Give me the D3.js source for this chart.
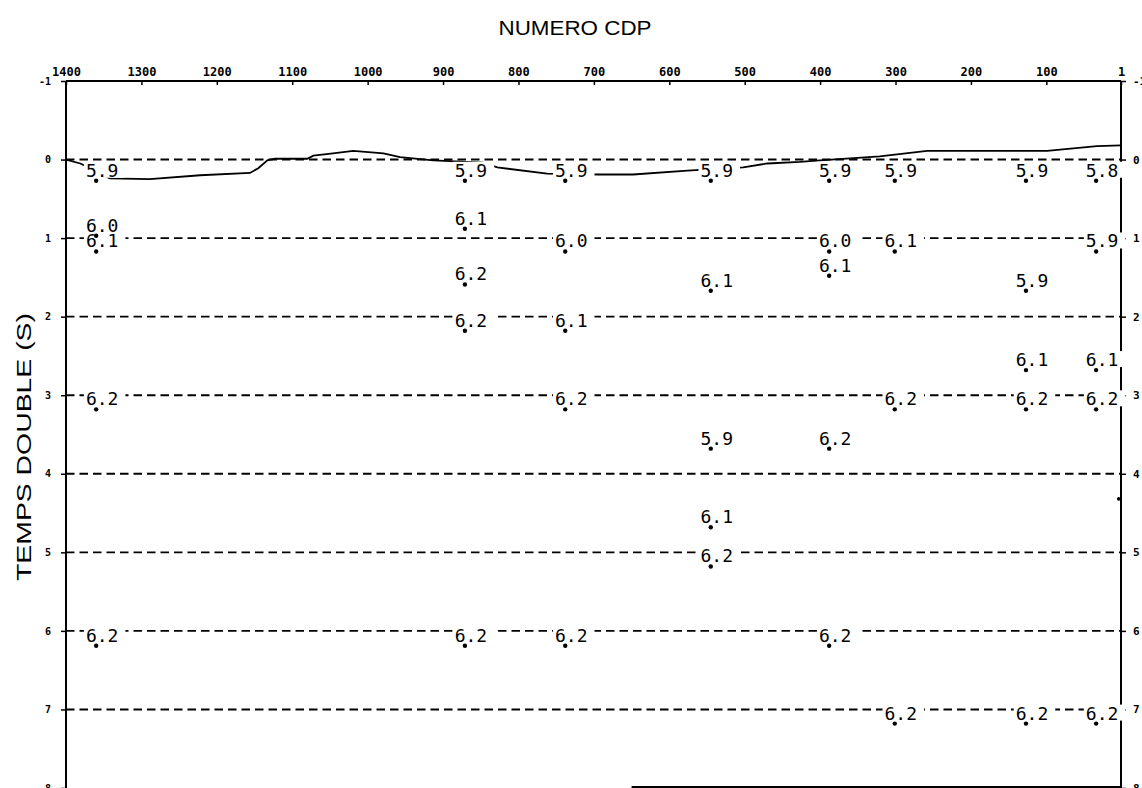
<!DOCTYPE html>
<html>
<head>
<meta charset="utf-8">
<script src="https://cdn.jsdelivr.net/npm/d3@7"></script>
<style>
  html, body { margin: 0; padding: 0; background: #fff; }
  svg { display: block; }
</style>
</head>
<body>
<svg id="chart" width="1142" height="788"></svg>
<script>
// ---------------- DATA ----------------
const cdpTicks = [1400, 1300, 1200, 1100, 1000, 900, 800, 700, 600, 500, 400, 300, 200, 100, 1];
const timeTicks = [-1, 0, 1, 2, 3, 4, 5, 6, 7, 8];
const gridTimes = [0, 1, 2, 3, 4, 5, 6, 7];

// surface (solid) line: CDP and time (s)
const surfaceCdp  = [1400, 1381, 1368, 1342, 1289, 1222, 1156, 1145, 1133, 1123, 1080, 1072, 1046, 1019, 979, 957, 913, 847, 828, 762, 694, 648, 576, 502, 470, 427, 400, 321, 258, 188, 99, 33, 1];
const surfaceTime = [0.0, 0.05, 0.11, 0.24, 0.25, 0.20, 0.17, 0.11, 0.01, -0.01, -0.01, -0.05, -0.08, -0.11, -0.08, -0.03, 0.01, 0.04, 0.10, 0.18, 0.19, 0.19, 0.14, 0.10, 0.05, 0.03, 0.01, -0.04, -0.11, -0.11, -0.11, -0.17, -0.18];

// velocity picks
const pickCdp  = [1360, 871, 738, 545, 388, 301, 127, 34,
                  1360, 1360, 871, 738, 388, 301, 34,
                  871, 545, 388, 127,
                  871, 738,
                  127, 34,
                  1360, 738, 301, 127, 34,
                  545, 388,
                  545, 545,
                  1360, 871, 738, 388,
                  301, 127, 34];
const pickTime = [0.27, 0.27, 0.27, 0.27, 0.27, 0.27, 0.27, 0.27,
                  0.97, 1.17, 0.88, 1.17, 1.17, 1.17, 1.17,
                  1.59, 1.67, 1.48, 1.67,
                  2.18, 2.18,
                  2.68, 2.68,
                  3.18, 3.18, 3.18, 3.18, 3.18,
                  3.68, 3.68,
                  4.68, 5.18,
                  6.19, 6.19, 6.19, 6.19,
                  7.18, 7.18, 7.18];
const pickVel  = ["5.9", "5.9", "5.9", "5.9", "5.9", "5.9", "5.9", "5.8",
                  "6.0", "6.1", "6.1", "6.0", "6.0", "6.1", "5.9",
                  "6.2", "6.1", "6.1", "5.9",
                  "6.2", "6.1",
                  "6.1", "6.1",
                  "6.2", "6.2", "6.2", "6.2", "6.2",
                  "5.9", "6.2",
                  "6.1", "6.2",
                  "6.2", "6.2", "6.2", "6.2",
                  "6.2", "6.2", "6.2"];
// unlabelled point
const extraCdp  = [4];
const extraTime = [4.32];
// partially visible bottom edge
const bottomEdgeCdp = [650, 1];

// ---------------- DRAW ----------------
const svg = d3.select("#chart");
const mLeft = 66, mRight = 1121, mTop = 81, mBottom = 788;

const x = d3.scaleLinear().domain([1400, 1]).range([mLeft, mRight]);
const y = d3.scaleLinear().domain([-1, 8]).range([mTop, mBottom]);

const monoFont = "'DejaVu Sans Mono', 'Liberation Mono', monospace";
const plainFmt = d => String(d);

// title
svg.append("text")
  .attr("x", 575).attr("y", 35)
  .attr("text-anchor", "middle")
  .attr("font-family", "'Liberation Sans', Arial, sans-serif")
  .attr("font-size", 21)
  .attr("textLength", 153).attr("lengthAdjust", "spacingAndGlyphs")
  .text("NUMERO  CDP");

// y-axis title
svg.append("text")
  .attr("transform", "translate(31,447) rotate(-90)")
  .attr("text-anchor", "middle")
  .attr("font-family", "'Liberation Sans', Arial, sans-serif")
  .attr("font-size", 21)
  .attr("textLength", 268).attr("lengthAdjust", "spacingAndGlyphs")
  .text("TEMPS  DOUBLE  (S)");

// dashed grid lines
svg.append("g").selectAll("line").data(gridTimes).join("line")
  .attr("x1", x(1400)).attr("x2", x(1))
  .attr("y1", d => y(d)).attr("y2", d => y(d))
  .attr("stroke", "#000").attr("stroke-width", 1.9)
  .attr("stroke-dasharray", "8.5 5");

// surface line
const surf = surfaceCdp.map((c, i) => [c, surfaceTime[i]]);
svg.append("path")
  .datum(surf)
  .attr("fill", "none").attr("stroke", "#000").attr("stroke-width", 1.8)
  .attr("d", d3.line().x(d => x(d[0])).y(d => y(d[1])));

// axes
function styleAxis(g, size) {
  g.attr("font-family", monoFont).attr("font-size", size).attr("font-weight", "bold");
  g.select(".domain").remove();
  g.selectAll(".tick line").attr("stroke", "#000").attr("stroke-width", 1.5);
  g.selectAll(".tick text").attr("fill", "#000");
}
svg.append("g").attr("transform", `translate(0,${mTop})`)
  .call(d3.axisTop(x).tickValues(cdpTicks).tickFormat(plainFmt).tickSizeInner(-4).tickSizeOuter(0).tickPadding(5))
  .call(g => styleAxis(g, 12));
svg.append("g").attr("transform", `translate(${mLeft},0)`)
  .call(d3.axisLeft(y).tickValues(timeTicks).tickFormat(plainFmt).tickSize(5).tickPadding(10))
  .call(g => styleAxis(g, 10));
svg.append("g").attr("transform", `translate(${mRight},0)`)
  .call(d3.axisRight(y).tickValues(timeTicks).tickFormat(plainFmt).tickSize(5).tickPadding(7))
  .call(g => styleAxis(g, 11));

// frame
const frame = svg.append("g").attr("stroke", "#000").attr("stroke-width", 2).attr("fill", "none");
frame.append("line").attr("x1", x(1400)).attr("x2", x(1)).attr("y1", y(-1)).attr("y2", y(-1));
frame.append("line").attr("x1", x(1400)).attr("x2", x(1400)).attr("y1", y(-1)).attr("y2", y(8));
frame.append("line").attr("x1", x(1)).attr("x2", x(1)).attr("y1", y(-1)).attr("y2", y(8));
frame.append("line").attr("x1", x(bottomEdgeCdp[0])).attr("x2", x(bottomEdgeCdp[1])).attr("y1", y(8) - 1).attr("y2", y(8) - 1);

// labels with knockout
const picks = pickCdp.map((c, i) => ({c, t: pickTime[i], v: pickVel[i]}));
const bgG = svg.append("g");
const txtG = svg.append("g");
const dotG = svg.append("g");

const texts = txtG.selectAll("text").data(picks).join("text")
  .attr("x", d => x(d.c) + 6)
  .attr("y", d => y(d.t) - 4)
  .attr("text-anchor", "middle")
  .attr("font-family", monoFont)
  .attr("font-size", 18)
  .attr("fill", "#000")
  .text(d => d.v);

texts.each(function(d) {
  const b = this.getBBox();
  bgG.append("rect")
    .attr("x", b.x - 2).attr("width", b.width + 9)
    .attr("y", (y(d.t) - 4) - 15).attr("height", 16)
    .attr("fill", "#fff");
});

dotG.selectAll("circle.pick").data(picks).join("circle")
  .attr("class", "pick")
  .attr("cx", d => x(d.c)).attr("cy", d => y(d.t)).attr("r", 2.2)
  .attr("fill", "#000");

dotG.selectAll("circle.extra").data(extraCdp.map((c, i) => ({c, t: extraTime[i]}))).join("circle")
  .attr("class", "extra")
  .attr("cx", d => x(d.c)).attr("cy", d => y(d.t)).attr("r", 1.8)
  .attr("fill", "#000");
</script>
</body>
</html>
